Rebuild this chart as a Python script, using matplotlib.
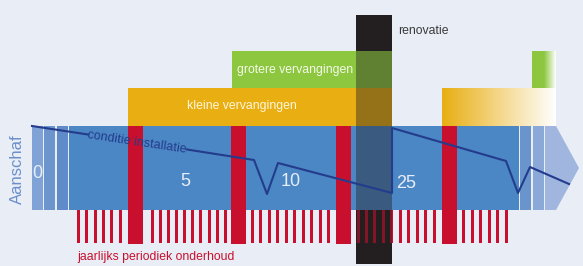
import numpy as np
import matplotlib.pyplot as plt
from matplotlib.patches import Rectangle, Polygon
from matplotlib.colors import LinearSegmentedColormap

plt.rcParams['font.family'] = ['Liberation Sans', 'DejaVu Sans']

# diagram layout in picture units (x right, y down)
W, H = 583, 266
bg = '#E9EDF6'
blue = '#4B86C5'
red = '#C8102E'
yellow = '#E8AE12'
green = '#8DC63F'
black = '#231F20'
navy = '#233C8C'

band_top, band_bot = 126, 210
band_x = [69, 519]
left_stripes = [(32, 43, '#7FA3D6'), (44, 55, '#6C95CE'), (57, 68, '#5F8CC9')]
right_stripes = [(520, 531, '#6A94CC'), (533, 544, '#8AA9D9')]
arrow_x = [545, 556, 579]

major_x = [128, 231, 336, 442]
major_w = 15
tick_x = [78.5, 86.5, 95, 103.5, 111.5, 120.5,
          152, 160, 168, 176, 184, 192.5, 200.5, 209, 217, 225.5,
          252.5, 260.5, 269.5, 277.5, 286.5, 294.5, 303.5, 311.5, 320.5, 328.5,
          358.5, 366.5, 374.5, 383.5, 391.5, 400.5, 408.5, 417.5, 425.5, 434.5,
          463.5, 472.5, 480.5, 489.5, 497.5, 506.5]
tick_w = 3
tick_bot = 243

reno_x = [356, 392]
reno_y = [15, 264]

green_bar = [232, 392, 51, 88]
yellow_bar = [128, 392, 88, 126]
yellow_fade = [442, 556, 88, 126]
green_fade = [532, 556, 51, 88]

cond_x1 = [32, 88]
cond_y1 = [126, 134.5]
cond_x2 = [187, 254, 267, 278, 392, 392, 506, 518, 530, 569]
cond_y2 = [149.5, 160, 194, 163, 193, 128, 161, 193, 167, 184]

year_labels = ['0', '5', '10', '25']
year_x = [37, 185, 291, 406]
year_y = [173, 182, 182, 183]

fig = plt.figure(figsize=(W / 100, H / 100), dpi=100, facecolor=bg)
ax = fig.add_axes([0, 0, 1, 1])
ax.set_facecolor(bg)
ax.axis('off')

# renovatie block (behind)
ax.add_patch(Rectangle((reno_x[0], reno_y[0]), reno_x[1] - reno_x[0], reno_y[1] - reno_y[0],
                       color=black, zorder=1, lw=0))

# replacement bars
ax.add_patch(Rectangle((green_bar[0], green_bar[2]), green_bar[1] - green_bar[0],
                       green_bar[3] - green_bar[2], color=green, zorder=2, lw=0))
ax.add_patch(Rectangle((yellow_bar[0], yellow_bar[2]), yellow_bar[1] - yellow_bar[0],
                       yellow_bar[3] - yellow_bar[2], color=yellow, zorder=2, lw=0))
grad = np.linspace(0, 1, 256).reshape(1, -1)
ax.imshow(grad, cmap=LinearSegmentedColormap.from_list('y', [yellow, '#FFFFFF']),
          extent=[yellow_fade[0], yellow_fade[1], yellow_fade[3], yellow_fade[2]],
          aspect='auto', zorder=2)
ax.imshow(grad, cmap=LinearSegmentedColormap.from_list('g', [green, green, '#FFFFFF']),
          extent=[green_fade[0], green_fade[1], green_fade[3], green_fade[2]],
          aspect='auto', zorder=2)
ax.set_xlim(0, W)
ax.set_ylim(H, 0)

# main band
ax.add_patch(Rectangle((band_x[0], band_top), band_x[1] - band_x[0], band_bot - band_top,
                       color=blue, zorder=2, lw=0))
for x0, x1, c in left_stripes + right_stripes:
    ax.add_patch(Rectangle((x0, band_top), x1 - x0, band_bot - band_top, color=c, zorder=2, lw=0))
ax.add_patch(Polygon([(arrow_x[0], band_top), (arrow_x[1], band_top),
                      (arrow_x[2], (band_top + band_bot) / 2), (arrow_x[1], band_bot),
                      (arrow_x[0], band_bot)], closed=True, color='#A0B6DE', zorder=2, lw=0))

# maintenance ticks and major overhauls
ax.bar(tick_x, tick_bot - band_bot, width=tick_w, bottom=band_bot, color=red, zorder=2, lw=0)
ax.bar([x + major_w / 2 for x in major_x], tick_bot + 1 - band_top, width=major_w,
       bottom=band_top, color=red, zorder=3, lw=0)

# translucent renovatie overlay
ax.add_patch(Rectangle((reno_x[0], green_bar[2]), reno_x[1] - reno_x[0], tick_bot + 1 - green_bar[2],
                       color=black, alpha=0.42, zorder=4, lw=0))

# condition line
ax.plot(cond_x1, cond_y1, color=navy, lw=1.5, zorder=5)
ax.plot(cond_x2, cond_y2, color=navy, lw=1.5, zorder=5)

# texts
ax.text(137, 142, 'conditie installatie', color=navy, fontsize=9, rotation=-8.5,
        ha='center', va='center', zorder=6)
for lab, x, y in zip(year_labels, year_x, year_y):
    ax.text(x, y, lab, color='#E8EEF8', fontsize=13, ha='center', va='center', zorder=6)
ax.text(17, 169, 'Aanschaf', color='#6A8FCB', fontsize=12, rotation=90,
        ha='center', va='center')
ax.text(242, 106, 'kleine vervangingen', color='#FFF6DC', fontsize=8.8,
        ha='center', va='center', zorder=6)
ax.text(295, 70, 'grotere vervangingen', color='#F4FAE8', fontsize=8.8,
        ha='center', va='center', zorder=6)
ax.text(398, 31, 'renovatie', color='#3A3A3A', fontsize=8.8, ha='left', va='center')
ax.text(77, 257, 'jaarlijks periodiek onderhoud', color=red, fontsize=8.8,
        ha='left', va='center')

fig.savefig('out.png', dpi=100, facecolor=bg)
